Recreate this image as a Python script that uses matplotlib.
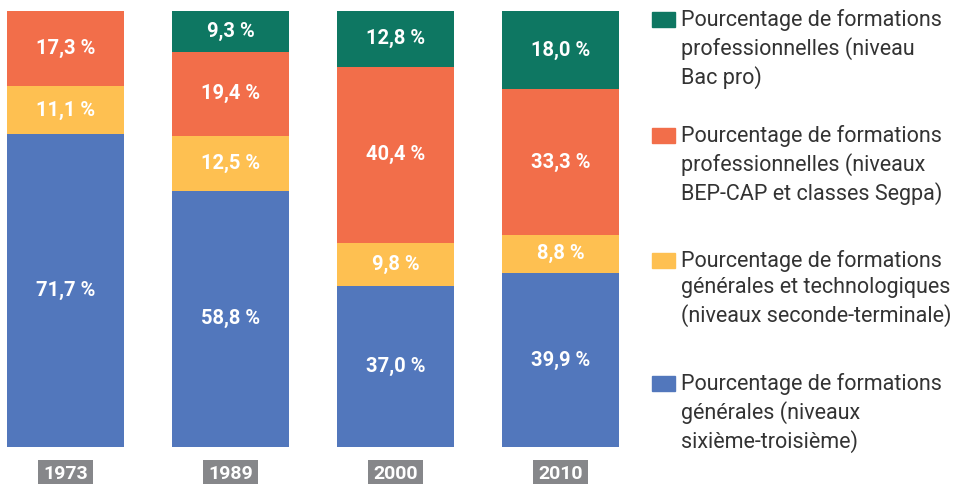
import numpy as np
import matplotlib.pyplot as plt
from matplotlib.patches import Rectangle

plt.rcParams['font.family'] = ['Roboto', 'DejaVu Sans']

# data
years = ['1973', '1989', '2000', '2010']
gen_college = [71.7, 58.8, 37.0, 39.9]
gen_lycee = [11.1, 12.5, 9.8, 8.8]
pro_bep = [17.3, 19.4, 40.4, 33.3]
pro_bac = [0.0, 9.3, 12.8, 18.0]

series = [gen_college, gen_lycee, pro_bep, pro_bac]
colors = ['#5277bc', '#fec051', '#f26e4a', '#0e7762']
labels = [
    'Pourcentage de formations\ngénérales (niveaux\nsixième-troisième)',
    'Pourcentage de formations\ngénérales et technologiques\n(niveaux seconde-terminale)',
    'Pourcentage de formations\nprofessionnelles (niveaux\nBEP-CAP et classes Segpa)',
    'Pourcentage de formations\nprofessionnelles (niveau\nBac pro)',
]

W, H = 967, 484
fig = plt.figure(figsize=(W / 100, H / 100), dpi=100)
ax = fig.add_axes([7 / W, 37 / H, 612 / W, 436 / H])

x = np.arange(len(years))
width = 0.71
bottom = np.zeros(len(years))
for vals, col in zip(series, colors):
    vals = np.array(vals)
    ax.bar(x, vals, width, bottom=bottom, color=col, linewidth=0)
    for xi, b, v in zip(x, bottom, vals):
        if v > 0:
            ax.text(xi, b + v / 2, f'{v:.1f} %'.replace('.', ','),
                    ha='center', va='center', color='white',
                    fontsize=14.5, fontweight='bold')
    bottom += vals

ax.set_xlim(-width / 2, len(years) - 1 + width / 2)
ax.set_ylim(0, 100)
ax.axis('off')

# year labels in grey boxes
for xi, yr in zip(x, years):
    ax.text(xi, -0.058, yr, transform=ax.get_xaxis_transform(),
            ha='center', va='center_baseline', color='white', fontsize=14,
            fontweight='bold',
            bbox=dict(boxstyle='square,pad=0.25', fc='#86878a', ec='none'))

# legend drawn by hand
tops = [384, 261, 136, 20]
for top, lab, col in zip(tops, labels, colors):
    fig.add_artist(Rectangle((652 / W, 1 - (top + 7) / H), 23 / W, 15 / H,
                             transform=fig.transFigure, color=col))
    fig.text(681 / W, 1 - (top - 11) / H, lab, ha='left', va='top',
             fontsize=15.5, color='#333333', linespacing=1.33)

fig.savefig('out.png', dpi=100)
